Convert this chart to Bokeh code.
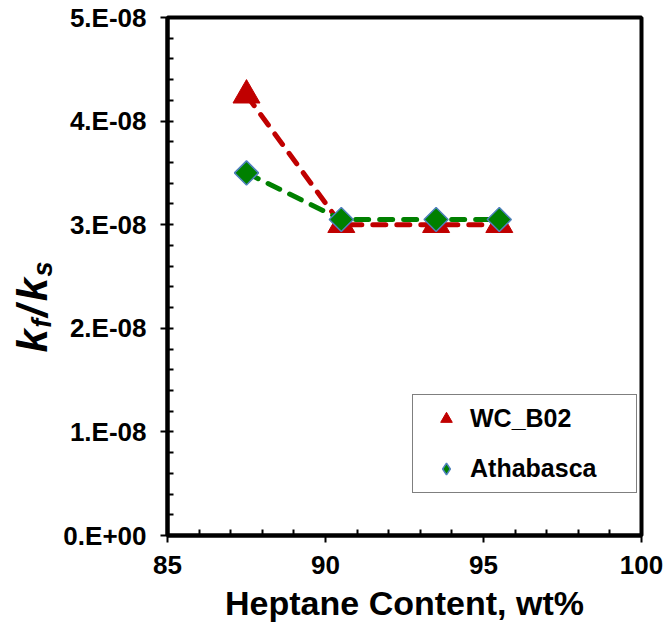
import math
from bokeh.plotting import figure
from bokeh.layouts import row
from bokeh.models import (Legend, LegendItem, FixedTicker, CustomJSTickFormatter,
                          Range1d, ColumnDataSource)
from bokeh.core.properties import value
from bokeh.embed import file_html
from bokeh.resources import INLINE

# ---- data ----
heptane = [87.5, 90.5, 93.5, 95.5]
wc_b02 = [4.25e-8, 3.0e-8, 3.0e-8, 3.0e-8]
athabasca = [3.5e-8, 3.05e-8, 3.05e-8, 3.05e-8]
x_ticks = [85, 90, 95, 100]
x_minor = [86, 87, 88, 89, 91, 92, 93, 94, 96, 97, 98, 99]
y_ticks = [0.0, 1e-8, 2e-8, 3e-8, 4e-8, 5e-8]
y_tick_labels = ["0.E+00", "1.E-08", "2.E-08", "3.E-08", "4.E-08", "5.E-08"]
y_minor = [i * 0.2e-8 for i in range(26)]

FONT = "Liberation Sans"
X0, X1 = 85, 100
Y0, Y1 = 0, 5e-8
FW, FH = 474, 518
LW = 60                 # width of the strip holding the y-axis title
LH = 620                # height of that strip
BL, BT, BR, BB = 167 - LW, 17, 24, 90

p = figure(frame_width=FW, frame_height=FH,
           x_range=Range1d(X0, X1), y_range=Range1d(Y0, Y1),
           output_backend="svg", toolbar_location=None,
           min_border_left=BL, min_border_top=BT, min_border_right=BR,
           min_border_bottom=BB)
p.grid.visible = False
p.outline_line_color = "black"
p.outline_line_width = 4
p.background_fill_color = "white"
p.border_fill_color = "white"

for ax in (p.xaxis[0], p.yaxis[0]):
    ax.axis_line_width = 4
    ax.axis_line_color = "black"
    ax.major_tick_line_width = 2
    ax.major_tick_out = 7
    ax.major_tick_in = 0
    ax.minor_tick_line_width = 2
    ax.minor_tick_in = 6
    ax.minor_tick_out = 0
    ax.major_label_text_font = FONT
    ax.major_label_text_font_size = "26px"
    ax.major_label_text_font_style = "bold"
    ax.major_label_text_color = "black"

p.xaxis.ticker = FixedTicker(ticks=x_ticks, minor_ticks=x_minor)
p.xaxis.major_label_standoff = 13
p.xaxis.axis_label = "Heptane Content, wt%"
p.xaxis.axis_label_text_font = FONT
p.xaxis.axis_label_text_font_size = "34px"
p.xaxis.axis_label_text_font_style = "bold"
p.xaxis.axis_label_text_color = "black"
p.xaxis.axis_label_standoff = 7

p.yaxis.ticker = FixedTicker(ticks=y_ticks, minor_ticks=y_minor)
p.yaxis.major_label_standoff = 14
p.yaxis.formatter = CustomJSTickFormatter(
    args=dict(tvals=y_ticks, tlabs=y_tick_labels),
    code="""
    let best = 0, bd = Infinity;
    for (let i = 0; i < tvals.length; i++) {
        const d = Math.abs(tvals[i] - tick);
        if (d < bd) { bd = d; best = i; }
    }
    return tlabs[best];
""")

# ---- series ----
p.line(heptane, wc_b02, line_color="#C00000", line_width=5,
       line_dash="13 11", line_cap="round")
p.line(heptane, athabasca, line_color="#008000", line_width=5,
       line_dash="13 11", line_cap="round")
s1 = p.scatter(heptane, wc_b02, marker="triangle", size=27,
               fill_color="#C00000", line_color="#C00000")
s2 = p.scatter(heptane, athabasca, marker="square", angle=math.pi / 4, size=17,
               fill_color="#008000", line_color="#4F81BD", line_width=1.5)
# legend swatch for Athabasca (legend ignores marker angle, so use a diamond)
s2_key = p.scatter(heptane, athabasca, marker="diamond", size=22,
                   fill_color="#008000", line_color="#4F81BD", line_width=1.5,
                   visible=False)

legend = Legend(items=[LegendItem(label="WC_B02", renderers=[s1]),
                       LegendItem(label="Athabasca", renderers=[s2_key])],
                location=(245, 42), padding=9, spacing=21,
                glyph_width=48, glyph_height=29, label_standoff=0,
                label_width=157, label_height=28, margin=0,
                label_text_font=FONT, label_text_font_size="25px",
                label_text_font_style="bold", label_text_color="black",
                border_line_color="black", border_line_width=1.5,
                background_fill_color="white", background_fill_alpha=1)
p.add_layout(legend)

# ---- y-axis title k_f / k_s in a narrow strip to the left ----
left = figure(width=LW, height=LH, x_range=Range1d(0, LW), y_range=Range1d(0, LH),
              x_axis_type=None, y_axis_type=None, toolbar_location=None,
              output_backend="svg", min_border=0)
left.grid.visible = False
left.outline_line_color = None
left.background_fill_color = "white"
left.border_fill_color = "white"

# (text, anchor x, anchor y from top, font size)
parts = [("k", 32, 405, "42px"), ("f", 41, 375, "27px"), ("/", 32, 362, "42px"),
         ("k", 32, 343, "42px"), ("s", 42, 313, "27px")]
src = ColumnDataSource(dict(
    x=[pt[1] for pt in parts], y=[LH - pt[2] for pt in parts],
    t=[pt[0] for pt in parts], fs=[pt[3] for pt in parts]))
left.text(x="x", y="y", text="t", source=src, angle=math.pi / 2,
          text_font=value(FONT), text_font_size="fs",
          text_font_style="bold italic", text_color="black",
          text_align="left", text_baseline="alphabetic")

layout = row(left, p)
open("out.html", "w").write(file_html(layout, INLINE))
